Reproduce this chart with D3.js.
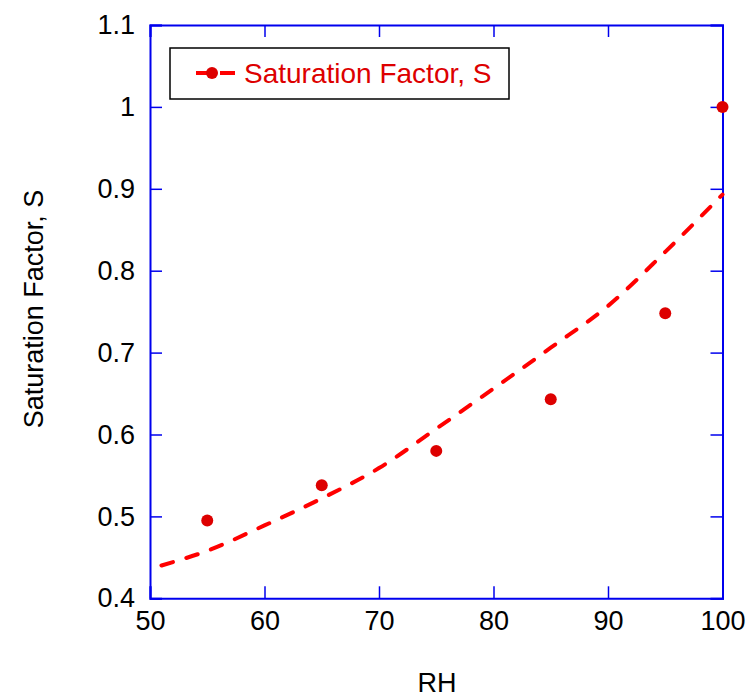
<!DOCTYPE html>
<html>
<head>
<meta charset="utf-8">
<script src="https://cdn.jsdelivr.net/npm/d3@7/dist/d3.min.js"></script>
<style>
  body { margin: 0; background: #fff; }
  svg { display: block; font-family: "Liberation Sans", Arial, sans-serif; }
</style>
</head>
<body>
<svg id="chart" width="748" height="698"></svg>
<script>
// Measured points (Saturation Factor, S)
const pointRH = [55, 65, 75, 85, 95, 100];
const pointS  = [0.495, 0.538, 0.580, 0.643, 0.748, 1.0];
// Fitted curve (dashed)
const curveRH = [51, 55, 60, 65, 70, 75, 80, 85, 90, 95, 100];
const curveS  = [0.440, 0.458, 0.489, 0.522, 0.559, 0.607, 0.656, 0.706, 0.757, 0.823, 0.893];
const xTicks = [50, 60, 70, 80, 90, 100];
const yTicks = [0.4, 0.5, 0.6, 0.7, 0.8, 0.9, 1.0, 1.1];
const seriesName = "Saturation Factor, S";
const xLabel = "RH";
const yLabel = "Saturation Factor, S";

const svg = d3.select("#chart");
const L = 150, R = 722.5, T = 25, B = 598.3;
const x = d3.scaleLinear().domain([50, 100]).range([L, R]);
const y = d3.scaleLinear().domain([0.4, 1.1]).range([B, T]);
const axisColor = "#0000ee";
const fs = 27;

// Axes (ticks inward on all four sides)
const gB = svg.append("g").attr("transform", `translate(0,${B})`)
  .call(d3.axisBottom(x).tickValues(xTicks).tickSize(-12).tickPadding(8).tickFormat(d3.format("d")));
const gT = svg.append("g").attr("transform", `translate(0,${T})`)
  .call(d3.axisTop(x).tickValues(xTicks).tickSize(-12).tickFormat(""));
const gL = svg.append("g").attr("transform", `translate(${L},0)`)
  .call(d3.axisLeft(y).tickValues(yTicks).tickSize(-12).tickPadding(15).tickFormat(d => d3.format("")(+d.toFixed(1))));
const gR = svg.append("g").attr("transform", `translate(${R},0)`)
  .call(d3.axisRight(y).tickValues(yTicks).tickSize(-12).tickFormat(""));

[gB, gT, gL, gR].forEach(g => {
  g.select(".domain").attr("stroke", axisColor).attr("stroke-width", 2);
  g.selectAll(".tick line").attr("stroke", axisColor).attr("stroke-width", 1.5);
  g.selectAll(".tick text").attr("fill", "#000").style("font-size", fs + "px")
    .style("font-family", '"Liberation Sans", Arial, sans-serif');
});
gB.selectAll(".tick text").attr("dy", "0.71em").attr("y", 13);

// Dashed curve
const curveData = curveRH.map((d, i) => [d, curveS[i]]);
svg.append("path")
  .datum(curveData)
  .attr("fill", "none")
  .attr("stroke", "#ff0000")
  .attr("stroke-width", 4)
  .attr("stroke-linecap", "round")
  .attr("stroke-dasharray", "12,14")
  .attr("d", d3.line().x(d => x(d[0])).y(d => y(d[1])).curve(d3.curveMonotoneX));

// Points
svg.append("g").selectAll("circle")
  .data(pointRH.map((d, i) => [d, pointS[i]]))
  .join("circle")
  .attr("cx", d => x(d[0]))
  .attr("cy", d => y(d[1]))
  .attr("r", 6)
  .attr("fill", "#dd0000");

// Legend
const lg = svg.append("g");
lg.append("rect").attr("x", 170).attr("y", 48).attr("width", 339).attr("height", 51)
  .attr("fill", "#fff").attr("stroke", "#000").attr("stroke-width", 1.5);
lg.append("line").attr("x1", 196).attr("x2", 208).attr("y1", 73).attr("y2", 73)
  .attr("stroke", "#ff0000").attr("stroke-width", 4);
lg.append("line").attr("x1", 220).attr("x2", 235).attr("y1", 73).attr("y2", 73)
  .attr("stroke", "#ff0000").attr("stroke-width", 4);
lg.append("circle").attr("cx", 212).attr("cy", 73).attr("r", 6).attr("fill", "#dd0000");
lg.append("text").attr("x", 244).attr("y", 83).attr("fill", "#dd0000")
  .style("font-size", "28px").text(seriesName);

// Axis labels
svg.append("text").attr("x", 437).attr("y", 692).attr("text-anchor", "middle")
  .style("font-size", fs + "px").attr("fill", "#000").text(xLabel);
svg.append("text").attr("transform", "translate(43,309) rotate(-90)").attr("text-anchor", "middle")
  .style("font-size", fs + "px").attr("fill", "#000").text(yLabel);
</script>
</body>
</html>
